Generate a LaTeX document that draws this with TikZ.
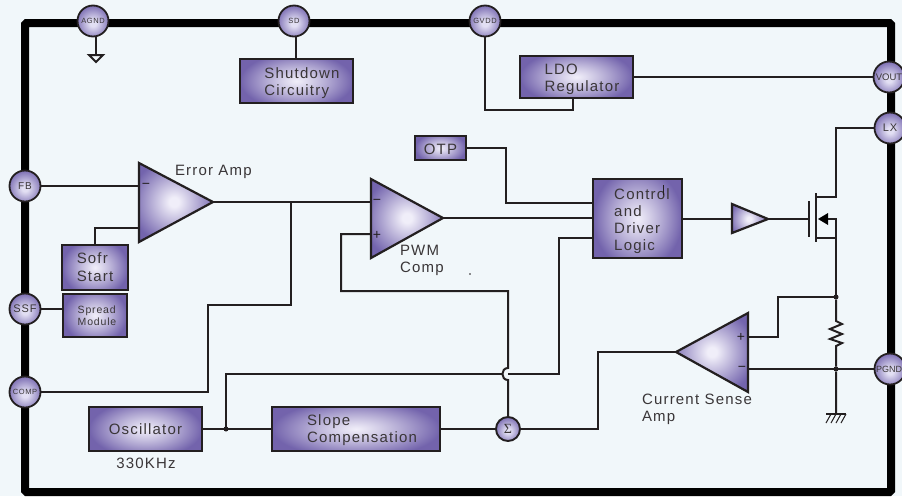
\documentclass[tikz,border=0pt]{standalone}
\usepackage{fontspec}
\setmainfont[LetterSpace=8]{Liberation Sans}
\newfontfamily\sigmafont{Liberation Serif}
\definecolor{pagebg}{HTML}{F1F7FA}
\definecolor{wirec}{HTML}{231F20}
\definecolor{textc}{HTML}{3A3638}
\definecolor{purplelo}{HTML}{7364AD}
\definecolor{purplehi}{HTML}{F0EEF9}
\definecolor{pinhi}{HTML}{E2DFF3}
\pgfdeclarefunctionalshading{boxgrad}{\pgfpoint{-50bp}{-50bp}}{\pgfpoint{50bp}{50bp}}{}{
  dup mul 0.6 mul exch dup mul add sqrt 25 div dup 1 gt {pop 1} if 1.15 exp
  dup -0.49 mul 0.94 add exch dup -0.54 mul 0.93 add exch -0.30 mul 0.975 add
}
\pgfdeclareradialshading{pinball}{\pgfpoint{0bp}{-4bp}}{color(0bp)=(pinhi); color(5bp)=(pinhi); color(30bp)=(purplelo); color(100bp)=(purplelo)}
\pgfdeclareradialshading{ampball}{\pgfpoint{0bp}{0bp}}{color(0bp)=(purplehi); color(2bp)=(purplehi); color(18bp)=(purplelo); color(50bp)=(purplelo)}
\tikzset{
  wire/.style={draw=wirec,line width=2pt,line join=miter},
  thinwire/.style={draw=wirec,line width=1.3pt},
  box/.style={draw=wirec,line width=2.2pt,shading=boxgrad,rectangle,inner sep=0pt,outer sep=0pt,text=textc,align=left,font=\fontsize{15}{17}\selectfont},
  pin/.style={circle,draw=wirec,line width=1.8pt,shading=pinball,inner sep=0pt,outer sep=0pt,minimum size=31pt,text=textc},
  lab/.style={inner sep=0pt,outer sep=0pt,text=textc,align=left,anchor=west,font=\fontsize{15}{17}\selectfont},
  sign/.style={inner sep=0pt,outer sep=0pt,text=wirec,font=\fontsize{14}{14}\selectfont},
  dotj/.style={circle,fill=wirec,inner sep=0pt,outer sep=0pt,minimum size=5pt}
}
% name, top, bottom, tip, light centre, radius
\newcommand{\ampshape}[6]{%
  \coordinate (#1-t) at (#2);
  \coordinate (#1-b) at (#3);
  \coordinate (#1-o) at (#4);
  \begin{scope}
    \clip (#1-t) -- (#1-b) -- (#1-o) -- cycle;
    \shade[shading=ampball] (#5) circle (#6);
  \end{scope}
  \draw[draw=wirec,line width=2.2pt,line join=miter] (#1-t) -- (#1-b) -- (#1-o) -- cycle;
}
\begin{document}
\begin{tikzpicture}[x=1pt,y=-1pt]
\clip (0,0) rectangle (902,496);
\fill[pagebg] (0,0) rectangle (902,496);
% package outline
\draw[black,line width=8pt,rounded corners=1.5pt] (25,23) rectangle (891,492);

% pins
\node[pin,font=\fontsize{7.5}{8}\selectfont] (agnd) at (93,21) {AGND};
\node[pin,font=\fontsize{7.5}{8}\selectfont] (sd) at (294,21) {SD};
\node[pin,font=\fontsize{7.5}{8}\selectfont] (gvdd) at (485,21) {GVDD};
\node[pin,font=\fontsize{9.5}{11}\selectfont\addfontfeature{LetterSpace=0}] (vout) at (889,77) {VOUT};
\node[pin,font=\fontsize{11}{11}\selectfont] (lx) at (890,128) {LX};
\node[pin,font=\fontsize{9}{11}\selectfont\addfontfeature{LetterSpace=0}] (pgnd) at (890,369) {PGND\hspace*{2pt}};
\node[pin,font=\fontsize{10}{11}\selectfont] (fb) at (25,186) {FB};
\node[pin,font=\fontsize{11}{11}\selectfont] (ssf) at (25,309) {SSF};
\node[pin,font=\fontsize{7.5}{8}\selectfont] (comp) at (25,392) {COMP};

% blocks
\node[box,minimum width=113pt,minimum height=44pt] (shut) at (296.5,81) {\rule{0pt}{15pt}\hspace*{11pt}Shutdown\\\hspace*{11pt}Circuitry};
\node[box,minimum width=113pt,minimum height=42pt] (ldo) at (576.5,77) {\rule{0pt}{15pt}\hspace*{11pt}LDO\\\hspace*{11pt}Regulator};
\node[box,minimum width=51pt,minimum height=24pt] (otp) at (440.5,148) {\rule{0pt}{13pt}OTP};
\node[box,minimum width=89pt,minimum height=79pt] (ctl) at (637.5,218.5) {\rule{0pt}{17pt}\hspace*{9pt}Control\\\hspace*{9pt}and\\\hspace*{9pt}Driver\\\hspace*{9pt}Logic};
\node[box,minimum width=66pt,minimum height=45pt] (soft) at (95,267.5) {Sofr\\[1pt]Start};
\node[box,minimum width=64pt,minimum height=43pt,font=\fontsize{10.5}{12}\selectfont] (spread) at (95,315.5) {\hspace*{4pt}Spread\\\hspace*{4pt}Module};
\node[box,minimum width=113pt,minimum height=44pt] (osc) at (145.5,429) {Oscillator};
\node[box,minimum width=168pt,minimum height=44pt] (slope) at (356,429) {\rule{0pt}{13pt}\hspace*{12pt}Slope\\\hspace*{12pt}Compensation};
\node[circle,draw=wirec,line width=1.9pt,shading=pinball,inner sep=0pt,outer sep=0pt,minimum size=24pt,text=textc,font=\sigmafont\fontsize{14}{14}\selectfont] (sum) at (508,429) {Σ};

% amplifiers
\ampshape{ea}{139,163}{139,242}{213,202}{174,202}{60}
\ampshape{pwm}{371,179}{371,258}{443,218}{407,218}{60}
\ampshape{cs}{748,313}{748,392}{676,352}{712,352}{60}
\ampshape{buf}{732,204}{732,233}{768,219}{749,219}{28}

% terminal and junction coordinates
\coordinate (ea-in) at (139,186);
\coordinate (ea-ss) at (139,228);
\coordinate (ea-out) at (291,202);
\coordinate (pwm-m) at (371,202);
\coordinate (pwm-p) at (371,234);
\coordinate (cs-p) at (748,337);
\coordinate (cs-m) at (748,369);
\coordinate (gate) at (809,219);
\coordinate (bulk) at (836,219);
\coordinate (drain) at (836,197);
\coordinate (src) at (836,238);
\coordinate (rtop) at (836,321);
\coordinate (rbot) at (836,346);
\coordinate (gndnode) at (836,414);
\coordinate (hoptop) at (508,368);
\coordinate (hopbot) at (508,380);
\coordinate (hopleft) at (502,374);
\coordinate (ctl-a) at (592,203);
\coordinate (ctl-c) at (592,238);

\node[dotj] (jtop) at (836,297) {};
\node[dotj] (jmid) at (836,369) {};
\node[dotj] (josc) at (226,429) {};

% wires
\draw[wire] (96,36) -- (96,55);
\draw[wire,fill=pagebg] (89,55) -- (103,55) -- (96,62) -- cycle;
\draw[wire] (296,36) -- (296,59);
\draw[wire] (gvdd.south) -- (485,110) -- (573,110) -- (573,98);
\draw[wire] (ldo.east) -- (vout.west |- ldo.east);
\draw[wire] (fb.east) -- (ea-in);
\draw[wire] (soft.north) -- (95,228) -- (ea-ss);
\draw[wire] (ea-o) -- (ea-out) -- (pwm-m);
\draw[wire] (ea-out) -- (291,305) -- (208,305) -- (208,392) -- (comp.east);
\draw[thinwire] (ssf.east) -- (spread.west |- ssf.east);
\draw[wire] (otp.east) -- (506,148) -- (506,203) -- (ctl-a);
\draw[wire] (pwm-o) -- (ctl.west |- pwm-o);
\draw[wire] (pwm-p) -- (341,234) -- (341,291) -- (508,291) -- (hoptop)
   .. controls (500.5,368) and (500.5,380) .. (hopbot) -- (sum.north);
\draw[wire] (ctl-c) -- (559,238) -- (559,374) -- (508,374);
\draw[wire] (hopleft) -- (226,374) -- (josc);
\draw[wire] (osc.east) -- (slope.west);
\draw[wire] (slope.east) -- (sum.west);
\draw[wire] (sum.east) -- (598,429) -- (598,352) -- (cs-o);
\draw[wire] (ctl.east |- buf-o) -- (732,219);
\draw[wire] (buf-o) -- (gate);
\draw[wire] (lx.west) -- (836,128) -- (drain) -- (816,197);
\draw[wire] (816,238) -- (src);
\draw[wire] (809,201) -- (809,237);
\draw[wire] (816,193) -- (816,242);
\fill[black] (818,219) -- (828,213) -- (828,225) -- cycle;
\draw[wire] (828,219) -- (bulk) -- (jtop);
\draw[wire] (jtop) -- (rtop)
  -- (842,324) -- (830,329) -- (842,334) -- (830,339) -- (842,343) -- (rbot) -- (jmid) -- (gndnode);
\draw[wire] (cs-p) -- (778,337) -- (778,297) -- (jtop);
\draw[wire] (cs-m) -- (pgnd.west);
\draw[thinwire] (826,414) -- (846,414);
\foreach \hx in {831,836,841,846} \draw[draw=wirec,line width=1pt] (\hx,414) -- (\hx-5,423);

% signs
\node[sign] (eaminus) at (146,186) {−};
\node[sign] (pwmminus) at (377,202) {−};
\node[sign] (pwmplus) at (377,235) {+};
\node[sign] (csplus) at (741,337) {+};
\node[sign] (csminus) at (742,369) {−};

% labels
\node[lab] (eal) at (175,172) {Error Amp};
\node[lab] (pwml) at (400,260) {PWM\\Comp};
\node[lab] (csl) at (642,409) {Current Sense\\Amp};
\node[lab,anchor=center] (oscl) at (146,463) {330KHz};

% small marks printed in the reference
\draw[draw=wirec,line width=0.5pt] (663,185) -- (663,195);
\fill[wirec] (470,274) circle (0.8);
\end{tikzpicture}
\end{document}
